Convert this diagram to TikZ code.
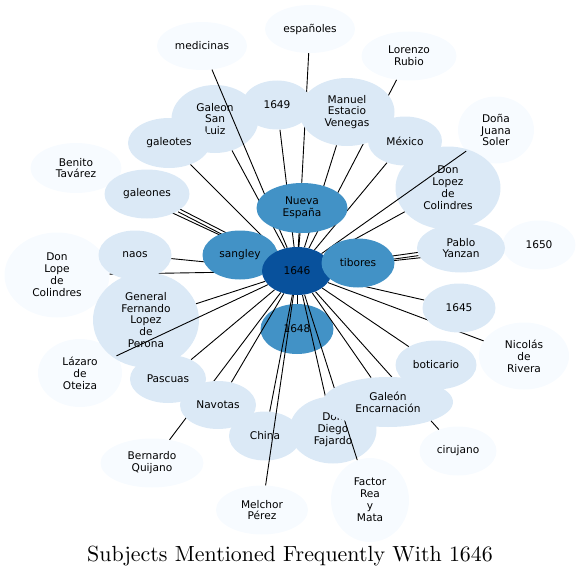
\documentclass[tikz,border=0pt]{standalone}
\usepackage{fontspec}
\newfontfamily\dvs{DejaVu Sans}
\newfontfamily\ttlfont{lmroman10-regular}[Extension=.otf]
\usetikzlibrary{shapes.geometric}
\pgfdeclarelayer{lzero}
\pgfdeclarelayer{lone}
\pgfdeclarelayer{ltwo}
\pgfsetlayers{lzero,lone,ltwo,main}
\definecolor{cdark}{HTML}{08519C}
\definecolor{cmed}{HTML}{4292C6}
\definecolor{clight}{HTML}{DBE9F6}
\definecolor{cpale}{HTML}{F7FBFF}
\begin{document}
\begin{tikzpicture}[x=1pt,y=-1pt,
  nd/.style={ellipse, inner sep=0pt, align=center, text=black,
    font=\dvs\fontsize{10.6}{11.9}\selectfont},
  sz/.style 2 args={minimum width=#1pt, minimum height=#2pt},
  pale/.style={nd, fill=cpale},
  light/.style={nd, fill=clight},
  med/.style={nd, fill=cmed},
  dark/.style={nd, fill=cdark},
  lnk/.style={draw=black, line width=0.9pt}]
\useasboundingbox (0,0) rectangle (581,578);

% palest nodes (bottom layer)
\begin{pgfonlayer}{lzero}
\node[pale, sz={90}{48}] (medi) at (202,46) {medicinas};
\node[pale, sz={90}{48}] (espa) at (310,29) {españoles};
\node[pale, sz={95}{49}] (lore) at (409,56) {Lorenzo\\Rubio};
\node[pale, sz={76}{67}] (djua) at (496,130) {Doña\\Juana\\Soler};
\node[pale, sz={91}{50}] (beni) at (76,168) {Benito\\Tavárez};
\node[pale, sz={105}{85}] (dlop) at (57,275) {Don\\Lope\\de\\Colindres};
\node[pale, sz={73}{49}] (y50) at (539,245) {1650};
\node[pale, sz={84}{68}] (laza) at (80,373) {Lázaro\\de\\Oteiza};
\node[pale, sz={90}{67}] (nico) at (524,356) {Nicolás\\de\\Rivera};
\node[pale, sz={77}{49}] (ciru) at (458,451) {cirujano};
\node[pale, sz={103}{49}] (bern) at (152,463) {Bernardo\\Quijano};
\node[pale, sz={92}{49}] (melc) at (262,510) {Melchor\\Pérez};
\node[pale, sz={78}{84}] (fact) at (370,500) {Factor\\Rea\\y\\Mata};
\end{pgfonlayer}

% nodes that some connectors cross over
\begin{pgfonlayer}{lone}
\node[light, sz={87}{68}] (gsl) at (215,119) {Galeon\\San\\Luiz};
\node[light, sz={106}{95}] (gene) at (146,320) {General\\Fernando\\Lopez\\de\\Perona};
\node[light, sz={105}{83}] (dlc) at (448,188) {Don\\Lopez\\de\\Colindres};
\node[light, sz={72}{49}] (chin) at (265,436) {China};
\node[light, sz={87}{67}] (ddf) at (333,430) {Don\\Diego\\Fajardo};
\node[med, sz={73}{50}] (y48) at (297,329) {1648};
\end{pgfonlayer}

% top nodes
\node[light, sz={70}{49}] (y49) at (277,105) {1649};
\node[light, sz={95}{68}] (manu) at (347,112) {Manuel\\Estacio\\Venegas};
\node[light, sz={74}{49}] (mexi) at (405,141) {México};
\node[light, sz={82}{50}] (gots) at (169,143) {galeotes};
\node[light, sz={85}{49}] (gons) at (147,194) {galeones};
\node[light, sz={73}{49}] (naos) at (135,255) {naos};
\node[light, sz={88}{49}] (pabl) at (461,248) {Pablo\\Yanzan};
\node[light, sz={73}{49}] (y45) at (459,308) {1645};
\node[light, sz={81}{49}] (boti) at (436,365) {boticario};
\node[light, sz={76}{48}] (pasc) at (168,379) {Pascuas};
\node[light, sz={76}{48}] (navo) at (218,405) {Navotas};
\node[light, sz={130}{50}] (gale) at (388,402) {Galeón\\Encarnación};
\node[med, sz={91}{50}] (nues) at (302,208) {Nueva\\España};
\node[med, sz={75}{49}] (sang) at (240,255) {sangley};
\node[dark, sz={70}{48}] (c) at (297,271) {1646};
\node[med, sz={73}{49}] (tibo) at (358,263) {tibores};

% connector hidden by naos and General
\begin{pgfonlayer}{lzero}
\draw[lnk] (c) -- (dlop);
\end{pgfonlayer}

\begin{pgfonlayer}{ltwo}
\foreach \t in {medi,espa,lore,djua,beni,y50,laza,nico,ciru,bern,melc,fact,
  gsl,gene,dlc,chin,ddf,y48,y49,manu,mexi,gots,naos,y45,boti,pasc,navo,gale,
  nues,sang,tibo}
  \draw[lnk] (c) -- (\t);
\draw[lnk, transform canvas={shift={(0.75,-1.45)}}] (c) -- (gons);
\draw[lnk, transform canvas={shift={(-0.75,1.45)}}] (c) -- (gons);
\draw[lnk, transform canvas={shift={(0.25,1.6)}}] (c) -- (pabl);
\draw[lnk, transform canvas={shift={(-0.25,-1.6)}}] (c) -- (pabl);
\end{pgfonlayer}

\node[font=\ttlfont\fontsize{21.9}{24}\selectfont, inner sep=0pt] (title) at (290,556)
  {Subjects Mentioned Frequently With 1646};
\end{tikzpicture}
\end{document}
